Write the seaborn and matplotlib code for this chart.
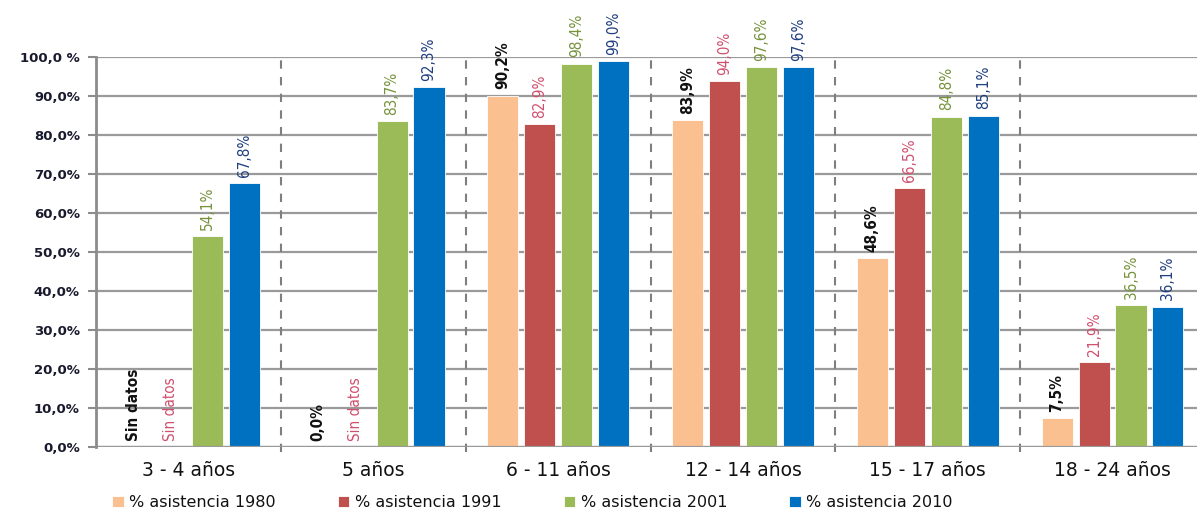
import numpy as np
import pandas as pd
import matplotlib
matplotlib.use("Agg")
import matplotlib.pyplot as plt
import seaborn as sns
from matplotlib import font_manager

# Age groups and school attendance per census year (NaN = no data)
categories = ["3 - 4 años", "5 años", "6 - 11 años", "12 - 14 años", "15 - 17 años", "18 - 24 años"]
years = ["% asistencia 1980", "% asistencia 1991", "% asistencia 2001", "% asistencia 2010"]
asistencia_1980 = [np.nan, 0.0, 90.2, 83.9, 48.6, 7.5]
asistencia_1991 = [np.nan, np.nan, 82.9, 94.0, 66.5, 21.9]
asistencia_2001 = [54.1, 83.7, 98.4, 97.6, 84.8, 36.5]
asistencia_2010 = [67.8, 92.3, 99.0, 97.6, 85.1, 36.1]
yticks = [0, 10, 20, 30, 40, 50, 60, 70, 80, 90, 100]
ytick_labels = ["0,0%", "10,0%", "20,0%", "30,0%", "40,0%", "50,0%", "60,0%",
                "70,0%", "80,0%", "90,0%", "100,0 %"]
no_data_text = "Sin datos"

bar_colors = ["#FAC090", "#C0504D", "#9BBB59", "#0070C0"]
label_colors = ["#111111", "#D0506E", "#76923C", "#1F3F7F"]

series = [asistencia_1980, asistencia_1991, asistencia_2001, asistencia_2010]
df = pd.DataFrame(
    [(c, y, v) for y, vals in zip(years, series) for c, v in zip(categories, vals)],
    columns=["grupo", "anio", "valor"],
)

sns.set_theme(style="white")
plt.rcParams["font.family"] = ["DejaVu Sans"]


def condensed_face(bold):
    for f in font_manager.fontManager.ttflist:
        if f.name == "DejaVu Sans" and "Condensed" in f.fname and f.style == "normal":
            is_bold = f.weight in (700, "bold")
            if is_bold == bold:
                return font_manager.FontProperties(fname=f.fname, size=11)
    return font_manager.FontProperties(family="DejaVu Sans", size=10,
                                       weight="bold" if bold else "normal")


label_fp_regular = condensed_face(False)
label_fp_bold = condensed_face(True)

fig = plt.figure(figsize=(11.97, 5.13), dpi=100)
ax = fig.add_axes([0.0806, 0.128, 0.926, 0.760])

sns.barplot(
    data=df.dropna(), x="grupo", y="valor", hue="anio",
    order=categories, hue_order=years, palette=bar_colors,
    width=0.8, gap=0.16, saturation=1, errorbar=None, ax=ax,
    edgecolor="white", linewidth=0.6,
)

ax.set_ylim(0, 100)
ax.set_xlim(-0.5, len(categories) - 0.5)
ax.set_yticks(yticks)
ax.set_yticklabels(ytick_labels)
ax.set_xlabel("")
ax.set_ylabel("")

# Horizontal grid and dashed group separators
ax.yaxis.grid(True, color="#9a9a9a", linewidth=1.6)
ax.set_axisbelow(True)
for b in np.arange(0.5, len(categories) - 0.5, 1.0):
    ax.axvline(b, ymin=-0.012, color="#7f7f7f", linestyle=(0, (4, 4)),
               linewidth=1.5, clip_on=False, zorder=1)

for side in ["top", "right", "bottom"]:
    ax.spines[side].set_visible(False)
ax.spines["left"].set_color("#8c8c8c")
ax.spines["left"].set_linewidth(2.0)
ax.axhline(0, color="#9a9a9a", linewidth=1.6, zorder=1)

ax.tick_params(axis="y", which="both", left=True, length=6, width=1.5,
               color="#8c8c8c", labelsize=9.5, labelcolor="#1a1a2e", pad=6)
ax.tick_params(axis="x", bottom=False, labelsize=13.5, labelcolor="#111111", pad=4)
for t in ax.get_yticklabels():
    t.set_fontweight("bold")

# Rotated value labels above each bar
n = len(years)
slot = 0.8 / n
for j, vals in enumerate(series):
    fp = label_fp_bold if j == 0 else label_fp_regular
    for i, v in enumerate(vals):
        x = i + (j - (n - 1) / 2) * slot
        if np.isnan(v):
            txt, y = no_data_text, 1.6
        else:
            txt, y = f"{v:.1f}%".replace(".", ","), v + 1.6
        ax.text(x, y, txt, rotation=90, ha="center", va="bottom",
                fontproperties=fp, color=label_colors[j])

leg = ax.legend(loc="upper left", bbox_to_anchor=(0.013, -0.118), ncol=4,
                frameon=False, fontsize=11.5, handlelength=0.7, handleheight=0.7,
                handletextpad=0.35, columnspacing=3.9, borderaxespad=0,
                borderpad=0.1)
for t in leg.get_texts():
    t.set_color("#111111")

fig.savefig("out.png", dpi=100, facecolor="white")
